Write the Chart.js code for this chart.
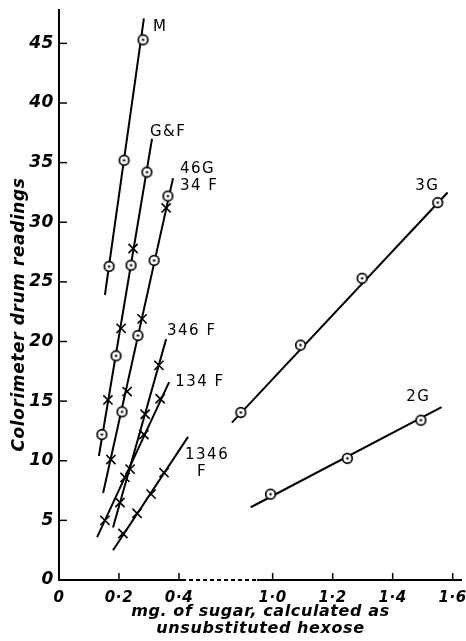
<!DOCTYPE html>
<html>
<head>
<meta charset="utf-8">
<title>Colorimeter drum readings</title>
<script src="https://cdn.jsdelivr.net/npm/chart.js@4.4.1/dist/chart.umd.min.js"></script>
<style>
html, body { margin: 0; padding: 0; background: #fff; }
#wrap { width: 466px; height: 641px; }
</style>
</head>
<body>
<div id="wrap"><canvas id="sugarChart"></canvas></div>
<script>
// M (circles)
const mX = [0.167, 0.217, 0.28];
const mY = [26.3, 35.2, 45.3];
const mLineX = [0.153, 0.283];
const mLineY = [23.9, 47.1];

// G & F (circles = G, crosses = F)
const gfCircX = [0.143, 0.19, 0.24, 0.293];
const gfCircY = [12.2, 18.8, 26.4, 34.2];
const gfCrossX = [0.163, 0.207, 0.247];
const gfCrossY = [15.1, 21.1, 27.8];
const gfLineX = [0.133, 0.31];
const gfLineY = [10.4, 37.0];

// 46G (circles) and 34F (crosses) share one line
const g46X = [0.21, 0.263, 0.317, 0.363];
const g46Y = [14.1, 20.5, 26.8, 32.2];
const f34X = [0.173, 0.227, 0.277, 0.357];
const f34Y = [10.1, 15.8, 21.9, 31.2];
const g46LineX = [0.147, 0.38];
const g46LineY = [7.3, 33.7];

// 346F
const f346X = [0.203, 0.237, 0.287, 0.333];
const f346Y = [6.5, 9.3, 13.9, 18.0];
const f346LineX = [0.18, 0.357];
const f346LineY = [4.4, 20.2];

// 134F
const f134X = [0.153, 0.22, 0.283, 0.337];
const f134Y = [5.0, 8.6, 12.2, 15.2];
const f134LineX = [0.127, 0.367];
const f134LineY = [3.6, 16.6];

// 1346F
const f1346X = [0.213, 0.26, 0.307, 0.35];
const f1346Y = [3.9, 5.6, 7.2, 9.0];
const f1346LineX = [0.18, 0.43];
const f1346LineY = [2.5, 12.0];

// 3G
const g3X = [0.894, 1.093, 1.298, 1.55];
const g3Y = [14.05, 19.7, 25.3, 31.65];
const g3LineX = [0.864, 1.583];
const g3LineY = [13.2, 32.5];

// 2G
const g2X = [0.993, 1.249, 1.494];
const g2Y = [7.2, 10.2, 13.4];
const g2LineX = [0.927, 1.563];
const g2LineY = [6.1, 14.5];

// tick labels
const xTickVals = [0, 0.2, 0.4, 1.0, 1.2, 1.4, 1.6];
const xTickText = ['0', '0·2', '0·4', '1·0', '1·2', '1·4', '1·6'];
const yTickVals = [0, 5, 10, 15, 20, 25, 30, 35, 40, 45];

// the x axis is broken between 0.4 and 1.0
const xBreak = 0.6, xShift = 0.288;
const axisX = x => (x > xBreak ? x - xShift : x);

// curve names, placed in data units
const curveNames = [
    { text: 'M', x: 0.313, y: 46.4 },
    { text: 'G&F', x: 0.303, y: 37.6 },
    { text: '46G', x: 0.403, y: 34.45 },
    { text: '34 F', x: 0.403, y: 33.0 },
    { text: '346 F', x: 0.36, y: 20.9 },
    { text: '134 F', x: 0.387, y: 16.6 },
    { text: '1346', x: 0.42, y: 10.5 },
    { text: 'F', x: 0.46, y: 9.05 },
    { text: '3G', x: 1.475, y: 33.07 },
    { text: '2G', x: 1.445, y: 15.35 }
];

function pts(xs, ys) {
    return xs.map((x, i) => ({ x: axisX(x), y: ys[i] }));
}

// circle with a dot in the middle
function makeRing() {
    const c = document.createElement('canvas');
    c.width = 13; c.height = 13;
    const g = c.getContext('2d');
    g.beginPath();
    g.arc(6.5, 6.5, 4.8, 0, 2 * Math.PI);
    g.fillStyle = '#fff';
    g.fill();
    g.lineWidth = 1.7;
    g.strokeStyle = '#000';
    g.stroke();
    g.beginPath();
    g.arc(6.5, 6.5, 1.2, 0, 2 * Math.PI);
    g.fillStyle = '#000';
    g.fill();
    return c;
}
const ring = makeRing();

function circles(xs, ys) {
    return { data: pts(xs, ys), showLine: false, pointStyle: ring, pointRadius: 6, order: 1 };
}
function crosses(xs, ys) {
    return {
        data: pts(xs, ys), showLine: false, pointStyle: 'crossRot', pointRadius: 6.5,
        pointBorderWidth: 1.6, pointBorderColor: '#000', order: 1
    };
}
function fit(xs, ys) {
    return { data: pts(xs, ys), showLine: true, borderColor: '#000', borderWidth: 2, pointRadius: 0, order: 2 };
}

const inkPlugin = {
    id: 'ink',
    beforeDraw(chart) {
        // the printed lettering is a little spaced out
        if ('letterSpacing' in chart.ctx) chart.ctx.letterSpacing = '0.6px';
    },
    afterDraw(chart) {
        const { ctx, chartArea: a, scales: { x, y } } = chart;
        ctx.save();
        ctx.strokeStyle = '#000';
        // x axis line, dashed across the break
        const gapL = x.getPixelForValue(0.41), gapR = x.getPixelForValue(0.66);
        ctx.lineWidth = 2;
        ctx.beginPath();
        ctx.moveTo(a.left - 1, a.bottom); ctx.lineTo(gapL, a.bottom);
        ctx.moveTo(gapR, a.bottom); ctx.lineTo(a.right, a.bottom);
        ctx.stroke();
        ctx.setLineDash([4, 3]);
        ctx.beginPath();
        ctx.moveTo(gapL, a.bottom); ctx.lineTo(gapR, a.bottom);
        ctx.stroke();
        ctx.setLineDash([]);
        // tick marks point inwards
        ctx.lineWidth = 1.5;
        y.ticks.forEach(t => {
            if (t.value === 0) return;
            const py = y.getPixelForValue(t.value);
            ctx.beginPath(); ctx.moveTo(a.left, py); ctx.lineTo(a.left + 8, py); ctx.stroke();
        });
        x.ticks.forEach(t => {
            if (t.value === 0) return;
            const px = x.getPixelForValue(t.value);
            ctx.beginPath(); ctx.moveTo(px, a.bottom); ctx.lineTo(px, a.bottom - 7); ctx.stroke();
        });
        // curve names
        ctx.fillStyle = '#000';
        ctx.font = '15px "DejaVu Sans"';
        ctx.textAlign = 'left';
        ctx.textBaseline = 'middle';
        if ('letterSpacing' in ctx) ctx.letterSpacing = '1.5px';
        curveNames.forEach(n => {
            ctx.fillText(n.text, x.getPixelForValue(axisX(n.x)), y.getPixelForValue(n.y));
        });
        ctx.restore();
        if ('letterSpacing' in ctx) ctx.letterSpacing = '0px';
    }
};

const ctx = document.getElementById('sugarChart').getContext('2d');
const sugarChart = new Chart(ctx, {
    type: 'scatter',
    data: {
        datasets: [
            circles(mX, mY), fit(mLineX, mLineY),
            circles(gfCircX, gfCircY), crosses(gfCrossX, gfCrossY), fit(gfLineX, gfLineY),
            circles(g46X, g46Y), crosses(f34X, f34Y), fit(g46LineX, g46LineY),
            crosses(f346X, f346Y), fit(f346LineX, f346LineY),
            crosses(f134X, f134Y), fit(f134LineX, f134LineY),
            crosses(f1346X, f1346Y), fit(f1346LineX, f1346LineY),
            circles(g3X, g3Y), fit(g3LineX, g3LineY),
            circles(g2X, g2Y), fit(g2LineX, g2LineY)
        ]
    },
    options: {
        responsive: true,
        maintainAspectRatio: false,
        animation: false,
        events: [],
        layout: { autoPadding: false, padding: { top: 10, right: 4, left: 0, bottom: 0 } },
        plugins: {
            legend: { display: false },
            tooltip: { enabled: false }
        },
        scales: {
            x: {
                type: 'linear',
                min: 0,
                max: 1.343,
                afterBuildTicks: s => { s.ticks = xTickVals.map(v => ({ value: axisX(v) })); },
                afterFit: s => { s.height = 61; s.paddingLeft = 0; s.paddingRight = 0; },
                grid: { display: false, drawTicks: false },
                border: { display: false },
                ticks: {
                    color: '#000',
                    padding: 9,
                    maxRotation: 0,
                    font: { family: '"DejaVu Sans"', size: 15, style: 'italic', weight: 'bold' },
                    callback: (v, i) => xTickText[i]
                },
                title: {
                    display: true,
                    text: ['mg. of sugar, calculated as', 'unsubstituted hexose'],
                    color: '#000',
                    font: { family: '"DejaVu Sans"', size: 16, style: 'italic', weight: 'bold', lineHeight: 1.05 },
                    padding: { top: 0, bottom: 3.5 }
                }
            },
            y: {
                type: 'linear',
                min: 0,
                max: 47.8,
                afterBuildTicks: s => { s.ticks = yTickVals.map(v => ({ value: v })); },
                afterFit: s => { s.width = 59; s.paddingTop = 0; s.paddingBottom = 0; },
                grid: { display: false, drawTicks: false },
                border: { display: true, color: '#000', width: 2 },
                ticks: {
                    color: '#000',
                    padding: 5,
                    font: { family: '"DejaVu Sans"', size: 17, style: 'italic', weight: 'bold' }
                },
                title: {
                    display: true,
                    text: 'Colorimeter drum readings      ',
                    color: '#000',
                    font: { family: '"DejaVu Sans"', size: 17, style: 'italic', weight: 'bold' },
                    padding: { top: 9, bottom: 0 }
                }
            }
        }
    },
    plugins: [inkPlugin]
});
</script>
</body>
</html>
